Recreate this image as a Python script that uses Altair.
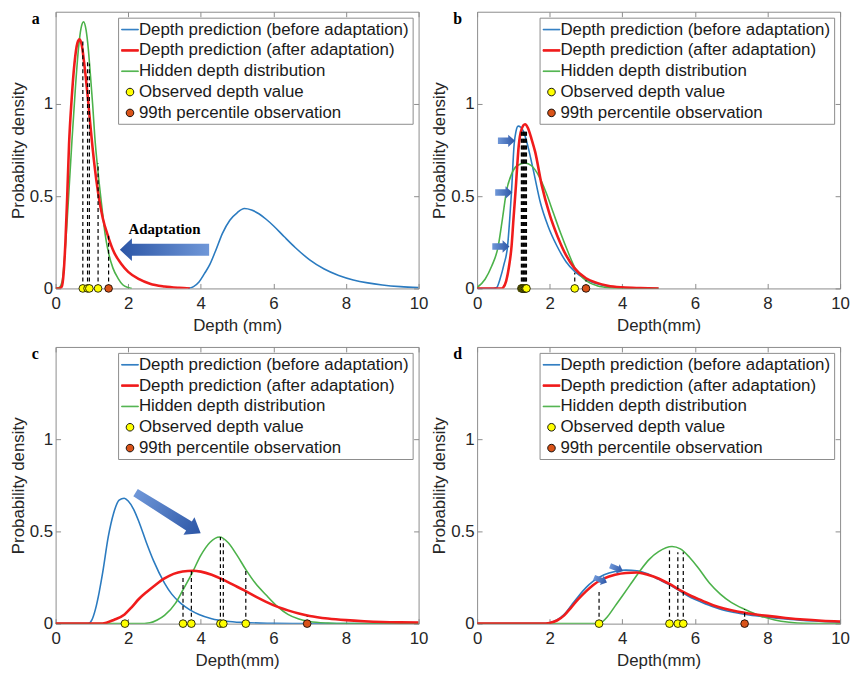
import json
import altair as alt
import pandas as pd

FONT = "Liberation Sans"
SERIF = "Liberation Serif"
BLUE = "#2b7bc0"
RED = "#f01c1c"
GREEN = "#4cb24a"
YELLOW = "#ffff00"
ORANGE = "#d95319"
GRAY = "#8c8c8c"

SERIES = [
    "Depth prediction (before adaptation)",
    "Depth prediction (after adaptation)",
    "Hidden depth distribution",
    "Observed depth value",
    "99th percentile observation",
]
X_TICKS = [0, 2, 4, 6, 8, 10]
Y_TICKS = [0, 0.5, 1]

# ---------------- panel a ----------------
A_BLUE_X = [3.65, 3.8, 3.95, 4.1, 4.25, 4.4, 4.6, 4.8, 5.0, 5.2, 5.4, 5.6, 5.8, 6.0, 6.3, 6.6, 7.0, 7.4, 7.8, 8.2, 8.6, 9.0, 9.5, 10.0]
A_BLUE_Y = [0.0, 0.01, 0.035, 0.08, 0.13, 0.2, 0.3, 0.37, 0.41, 0.433, 0.425, 0.405, 0.375, 0.34, 0.28, 0.222, 0.155, 0.105, 0.07, 0.046, 0.03, 0.019, 0.01, 0.005]
A_RED_X = [0.0, 0.1, 0.17, 0.22, 0.27, 0.32, 0.37, 0.44, 0.52, 0.6, 0.66, 0.72, 0.8, 0.88, 0.97, 1.07, 1.17, 1.3, 1.45, 1.6, 1.8, 2.0, 2.3, 2.6, 3.0, 3.4, 3.7]
A_RED_Y = [0.0, 0.0, 0.01, 0.08, 0.25, 0.5, 0.78, 1.02, 1.22, 1.33, 1.35, 1.32, 1.2, 1.05, 0.86, 0.67, 0.52, 0.38, 0.28, 0.2, 0.135, 0.09, 0.05, 0.025, 0.01, 0.003, 0.0]
A_GREEN_X = [0.0, 0.1, 0.18, 0.26, 0.35, 0.45, 0.55, 0.63, 0.7, 0.77, 0.84, 0.9, 0.95, 1.02, 1.08, 1.17, 1.27, 1.36, 1.45, 1.58, 1.72, 1.85, 2.0, 2.1]
A_GREEN_Y = [0.0, 0.005, 0.04, 0.2, 0.47, 0.8, 1.1, 1.3, 1.41, 1.445, 1.4, 1.3, 1.18, 1.0, 0.82, 0.63, 0.45, 0.3, 0.2, 0.11, 0.055, 0.02, 0.005, 0.0]
A_OBS_X = [0.75, 0.88, 0.93, 1.17]
A_OBS_TOP = [1.34, 1.23, 1.22, 0.68]
A_P99_X = [1.46]
A_P99_TOP = [0.30]
A_ARROW_X = [3.0]
A_ARROW_Y = [0.21]
A_TEXT_X = [3.0]
A_TEXT_Y = [0.32]
A_TEXT = ["Adaptation"]

# ---------------- panel b ----------------
B_BLUE_X = [0.0, 0.45, 0.54, 0.63, 0.74, 0.84, 0.9, 0.95, 1.02, 1.07, 1.13, 1.2, 1.28, 1.4, 1.55, 1.75, 1.95, 2.2, 2.45, 2.7, 3.0, 3.3, 3.6, 4.0, 4.5, 5.0]
B_BLUE_Y = [0.0, 0.0, 0.005, 0.05, 0.13, 0.23, 0.38, 0.53, 0.78, 0.85, 0.88, 0.875, 0.85, 0.77, 0.64, 0.46, 0.34, 0.23, 0.145, 0.09, 0.05, 0.025, 0.012, 0.004, 0.001, 0.0]
B_RED_X = [0.0, 0.68, 0.72, 0.8, 0.88, 0.95, 1.0, 1.06, 1.15, 1.22, 1.32, 1.4, 1.5, 1.6, 1.78, 2.0, 2.22, 2.45, 2.68, 3.0, 3.3, 3.6, 4.0, 4.5, 5.0]
B_RED_Y = [0.0, 0.0, 0.005, 0.04, 0.12, 0.23, 0.37, 0.53, 0.78, 0.86, 0.89, 0.87, 0.81, 0.74, 0.56, 0.4, 0.28, 0.18, 0.11, 0.055, 0.03, 0.015, 0.006, 0.002, 0.0]
B_GREEN_X = [0.0, 0.22, 0.4, 0.58, 0.7, 0.81, 0.95, 1.1, 1.32, 1.5, 1.7, 1.9, 2.1, 2.3, 2.5, 2.7, 2.9, 3.1, 3.3, 3.5, 3.7, 4.0, 5.0]
B_GREEN_Y = [0.005, 0.05, 0.12, 0.227, 0.38, 0.528, 0.62, 0.665, 0.68, 0.665, 0.61, 0.52, 0.41, 0.3, 0.2, 0.11, 0.06, 0.03, 0.015, 0.007, 0.002, 0.0, 0.0]
B_OBS_X = [1.22, 1.24, 1.26, 1.28, 1.30, 1.32, 1.34, 1.36, 2.69]
B_OBS_TOP = [0.86, 0.86, 0.86, 0.86, 0.86, 0.86, 0.86, 0.86, 0.085]
B_P99_X = [3.0]
B_P99_TOP = [0.045]
B_ARROW_X = [0.81, 0.735, 0.655]
B_ARROW_Y = [0.80, 0.52, 0.227]

# ---------------- panel c ----------------
C_BLUE_X = [0.0, 0.9, 1.0, 1.1, 1.2, 1.3, 1.45, 1.6, 1.75, 1.89, 2.0, 2.15, 2.3, 2.5, 2.7, 3.0, 3.2, 3.45, 3.7, 3.95, 4.3, 4.7, 5.2, 6.0, 7.0, 10.0]
C_BLUE_Y = [0.0, 0.0, 0.02, 0.08, 0.17, 0.28, 0.47, 0.6, 0.67, 0.68, 0.665, 0.62, 0.55, 0.44, 0.34, 0.22, 0.16, 0.11, 0.075, 0.05, 0.027, 0.013, 0.006, 0.002, 0.0, 0.0]
C_RED_X = [0.0, 1.2, 1.4, 1.6, 1.9, 2.1, 2.3, 2.5, 2.75, 3.0, 3.25, 3.5, 3.78, 4.0, 4.3, 4.6, 4.9, 5.2, 5.5, 5.8, 6.1, 6.4, 6.7, 7.0, 7.5, 8.0, 8.5, 9.0, 9.5, 10.0]
C_RED_Y = [0.0, 0.0, 0.005, 0.02, 0.05, 0.09, 0.135, 0.17, 0.21, 0.245, 0.27, 0.283, 0.287, 0.282, 0.265, 0.24, 0.21, 0.18, 0.148, 0.118, 0.092, 0.072, 0.055, 0.042, 0.028, 0.019, 0.013, 0.009, 0.007, 0.006]
C_GREEN_X = [0.0, 2.3, 2.6, 2.8, 3.0, 3.3, 3.5, 3.75, 4.0, 4.25, 4.52, 4.75, 5.0, 5.25, 5.5, 5.8, 6.1, 6.4, 6.7, 7.0, 7.5, 8.0, 10.0]
C_GREEN_Y = [0.0, 0.0, 0.005, 0.02, 0.045, 0.11, 0.18, 0.27, 0.37, 0.44, 0.47, 0.44, 0.37, 0.29, 0.22, 0.155, 0.095, 0.05, 0.025, 0.012, 0.003, 0.0, 0.0]
C_OBS_X = [1.91, 3.51, 3.74, 4.54, 4.62, 5.24]
C_OBS_TOP = [0.0, 0.257, 0.284, 0.47, 0.455, 0.30]
C_P99_X = [6.93]
C_P99_TOP = [0.04]
C_ARROW_X = [3.1]
C_ARROW_Y = [0.60]

# ---------------- panel d ----------------
D_BLUE_X = [0.0, 1.8, 2.0, 2.2, 2.4, 2.6, 2.8, 3.0, 3.2, 3.5, 3.8, 4.1, 4.4, 4.7, 5.0, 5.3, 5.6, 5.9, 6.2, 6.5, 6.8, 7.1, 7.5, 8.0, 8.5, 9.0, 9.5, 10.0]
D_BLUE_Y = [0.0, 0.0, 0.005, 0.02, 0.05, 0.1, 0.15, 0.195, 0.23, 0.265, 0.283, 0.29, 0.287, 0.27, 0.24, 0.21, 0.175, 0.14, 0.115, 0.092, 0.073, 0.06, 0.047, 0.035, 0.025, 0.017, 0.012, 0.008]
D_RED_X = [0.0, 1.8, 2.0, 2.2, 2.4, 2.6, 2.8, 3.0, 3.2, 3.5, 3.8, 4.1, 4.4, 4.7, 5.0, 5.3, 5.6, 5.9, 6.2, 6.5, 6.8, 7.1, 7.5, 8.0, 8.5, 9.0, 9.5, 10.0]
D_RED_Y = [0.0, 0.0, 0.004, 0.017, 0.045, 0.09, 0.135, 0.175, 0.21, 0.245, 0.265, 0.275, 0.277, 0.265, 0.245, 0.215, 0.18, 0.15, 0.125, 0.1, 0.082, 0.068, 0.055, 0.042, 0.031, 0.022, 0.016, 0.012]
D_GREEN_X = [0.0, 3.2, 3.4, 3.6, 3.8, 4.0, 4.25, 4.5, 4.75, 5.0, 5.37, 5.6, 5.85, 6.1, 6.4, 6.7, 7.0, 7.4, 7.8, 8.2, 8.6, 9.0, 10.0]
D_GREEN_Y = [0.0, 0.0, 0.005, 0.04, 0.095, 0.15, 0.22, 0.29, 0.35, 0.39, 0.418, 0.405, 0.36, 0.3, 0.22, 0.16, 0.115, 0.075, 0.042, 0.02, 0.008, 0.002, 0.0]
D_OBS_X = [3.36, 5.30, 5.53, 5.68]
D_OBS_TOP = [0.18, 0.396, 0.387, 0.387]
D_P99_X = [7.37]
D_P99_TOP = [0.08]
D_ARROW_X = [3.40, 3.84]
D_ARROW_Y = [0.237, 0.30]

# ---------------- styling ----------------
W, H = 366, 279

LEFT_ARROW = "M-1,0 L-0.73,-0.256 L-0.73,-0.133 L1,-0.133 L1,0.133 L-0.73,0.133 L-0.73,0.256 Z"
BIG_RIGHT_ARROW = "M1,0 L0.64,-0.27 L0.64,-0.14 L-1,-0.11 L-1,0.11 L0.64,0.14 L0.64,0.27 Z"
SMALL_RIGHT_ARROW = "M1,0 L0.2,-0.72 L0.2,-0.38 L-1,-0.38 L-1,0.38 L0.2,0.38 L0.2,0.72 Z"

# legend symbol shapes (unit square scaled by the legend symbol size)
THIN_BAR = "M-1,-0.04 L1,-0.04 L1,0.04 L-1,0.04 Z"
THICK_BAR = "M-1,-0.1 L1,-0.1 L1,0.1 L-1,0.1 Z"
DOT = "M0.45,0 A0.45,0.45 0 1,1 -0.45,0 A0.45,0.45 0 1,1 0.45,0 Z"


def grad(dark_left):
    c1, c2 = ("#2c56a6", "#6f97d8") if dark_left else ("#6f97d8", "#2c56a6")
    return alt.LinearGradient(
        gradient="linear",
        stops=[alt.GradientStop(color=c1, offset=0), alt.GradientStop(color=c2, offset=1)],
        x1=0, x2=1, y1=0, y2=0,
    )


def pick(vals):
    return f"{json.dumps(vals)}[indexof({json.dumps(SERIES)}, datum.value)]"


LEGEND = alt.Legend(
    title=None,
    orient="top-right",
    offset=6,
    padding=3,
    rowPadding=4,
    labelFont=FONT,
    labelFontSize=17,
    labelColor="#1a1a1a",
    labelLimit=600,
    labelOffset=0,
    strokeColor=GRAY,
    fillColor="white",
    symbolType=alt.ExprRef(expr=pick([THIN_BAR, THICK_BAR, THIN_BAR, DOT, DOT])),
    symbolSize=289,
    symbolStrokeWidth=0.9,
    symbolFillColor=alt.ExprRef(expr=pick([BLUE, RED, GREEN, YELLOW, ORANGE])),
    symbolOpacity=1,
)

XS = alt.Scale(domain=[0, 10], nice=False, zero=False)
YS = alt.Scale(domain=[0, 1.5], nice=False, zero=False)
STROKE_SCALE = alt.Scale(domain=SERIES, range=[BLUE, RED, GREEN, "black", "black"])
FILL_SCALE = alt.Scale(domain=SERIES[3:], range=[YELLOW, ORANGE])


def main_x(title):
    return alt.Axis(orient="bottom", values=X_TICKS, ticks=False, domain=False, grid=False,
                    labelFont=FONT, labelFontSize=17, labelColor="#262626", labelPadding=7,
                    labelFlush=False, title=title, titleFont=FONT, titleFontSize=17,
                    titleFontWeight="normal", titleColor="#262626", titlePadding=6)


MAIN_Y = alt.Axis(orient="left", values=Y_TICKS, format="~g", ticks=False, domain=False, grid=False,
                  labelFont=FONT, labelFontSize=17, labelColor="#262626", labelPadding=3,
                  labelFlush=False, title="Probability density", titleFont=FONT, titleFontSize=17,
                  titleFontWeight="normal", titleColor="#262626", titlePadding=2)


def tick_axis(orient, offset, values):
    return alt.Axis(orient=orient, offset=offset, values=values, labels=False, domain=False,
                    grid=False, ticks=True, tickSize=5, tickColor=GRAY, tickWidth=1, title=None)


def panel(letter, xtitle, curves, obs_x, obs_top, p99_x, p99_top, arrows, text=None):
    layers = []
    first = True
    for xs, ys, color, width in curves:
        df = pd.DataFrame({"x": xs, "y": ys})
        layers.append(
            alt.Chart(df).mark_line(interpolate="monotone", stroke=color, strokeWidth=width, clip=True).encode(
                x=alt.X("x:Q", scale=XS, axis=main_x(xtitle) if first else None),
                y=alt.Y("y:Q", scale=YS, axis=MAIN_Y if first else None),
            )
        )
        first = False

    rules = pd.DataFrame({"x": obs_x + p99_x, "top": obs_top + p99_top, "zero": 0.0})
    layers.append(
        alt.Chart(rules).mark_rule(color="black", strokeDash=[4, 3], strokeWidth=1.2).encode(
            x=alt.X("x:Q", scale=XS, axis=tick_axis("top", -H, X_TICKS)),
            y=alt.Y("zero:Q", scale=YS, axis=tick_axis("right", -W, Y_TICKS)),
            y2="top:Q",
        )
    )
    pts = pd.DataFrame({
        "x": obs_x + p99_x,
        "y": 0.0,
        "series": [SERIES[3]] * len(obs_x) + [SERIES[4]] * len(p99_x),
    })
    layers.append(
        alt.Chart(pts).mark_point(shape="circle", filled=True, size=60, strokeWidth=0.8, opacity=1).encode(
            x=alt.X("x:Q", scale=XS, axis=tick_axis("bottom", -H, X_TICKS)),
            y=alt.Y("y:Q", scale=YS, axis=tick_axis("left", -W, Y_TICKS)),
            stroke=alt.Stroke("series:N", scale=STROKE_SCALE, legend=LEGEND),
            fill=alt.Fill("series:N", scale=FILL_SCALE, legend=None),
        )
    )
    for ax, ay, shape, size, angle, dark_left in arrows:
        adf = pd.DataFrame({"x": ax, "y": ay})
        layers.append(
            alt.Chart(adf).mark_point(shape=shape, filled=True, fill=grad(dark_left), size=size,
                                      angle=angle, strokeWidth=0, opacity=1).encode(
                x=alt.X("x:Q", scale=XS, axis=None),
                y=alt.Y("y:Q", scale=YS, axis=None),
            )
        )
    if text is not None:
        tx, ty, tl = text
        tdf = pd.DataFrame({"x": tx, "y": ty, "label": tl})
        layers.append(
            alt.Chart(tdf).mark_text(font=SERIF, fontWeight="bold", fontSize=15, color="black").encode(
                x=alt.X("x:Q", scale=XS, axis=None),
                y=alt.Y("y:Q", scale=YS, axis=None),
                text="label:N",
            )
        )
    return alt.layer(*layers).resolve_axis(x="independent", y="independent").properties(
        width=W,
        height=H,
        title=alt.TitleParams(text=letter, anchor="start", orient="top", frame="group",
                              offset=-16, dx=-24, font=SERIF, fontSize=16, fontWeight="bold",
                              color="black"),
    )


pa = panel(
    "a", "Depth (mm)",
    [(A_BLUE_X, A_BLUE_Y, BLUE, 1.6), (A_GREEN_X, A_GREEN_Y, GREEN, 1.6), (A_RED_X, A_RED_Y, RED, 2.6)],
    A_OBS_X, A_OBS_TOP, A_P99_X, A_P99_TOP,
    [(A_ARROW_X, A_ARROW_Y, LEFT_ARROW, 8100, 0, True)],
    text=(A_TEXT_X, A_TEXT_Y, A_TEXT),
)
pb = panel(
    "b", "Depth(mm)",
    [(B_BLUE_X, B_BLUE_Y, BLUE, 1.6), (B_GREEN_X, B_GREEN_Y, GREEN, 1.6), (B_RED_X, B_RED_Y, RED, 2.6)],
    B_OBS_X, B_OBS_TOP, B_P99_X, B_P99_TOP,
    [(B_ARROW_X, B_ARROW_Y, SMALL_RIGHT_ARROW, 300, 0, False)],
)
pc = panel(
    "c", "Depth(mm)",
    [(C_BLUE_X, C_BLUE_Y, BLUE, 1.6), (C_GREEN_X, C_GREEN_Y, GREEN, 1.6), (C_RED_X, C_RED_Y, RED, 2.6)],
    C_OBS_X, C_OBS_TOP, C_P99_X, C_P99_TOP,
    [(C_ARROW_X, C_ARROW_Y, BIG_RIGHT_ARROW, 6000, 32, False)],
)
pd_ = panel(
    "d", "Depth(mm)",
    [(D_BLUE_X, D_BLUE_Y, BLUE, 1.6), (D_GREEN_X, D_GREEN_Y, GREEN, 1.6), (D_RED_X, D_RED_Y, RED, 2.6)],
    D_OBS_X, D_OBS_TOP, D_P99_X, D_P99_TOP,
    [(D_ARROW_X, D_ARROW_Y, SMALL_RIGHT_ARROW, 196, 22, False)],
)

chart = (
    alt.concat(pa, pb, pc, pd_, columns=2, spacing=59, bounds="flush")
    .resolve_scale(stroke="independent", fill="independent")
    .configure_view(stroke=GRAY, strokeWidth=1)
    .properties(padding=0, background="white")
)

chart.save("out.html", embed_options={"renderer": "svg", "actions": False})
